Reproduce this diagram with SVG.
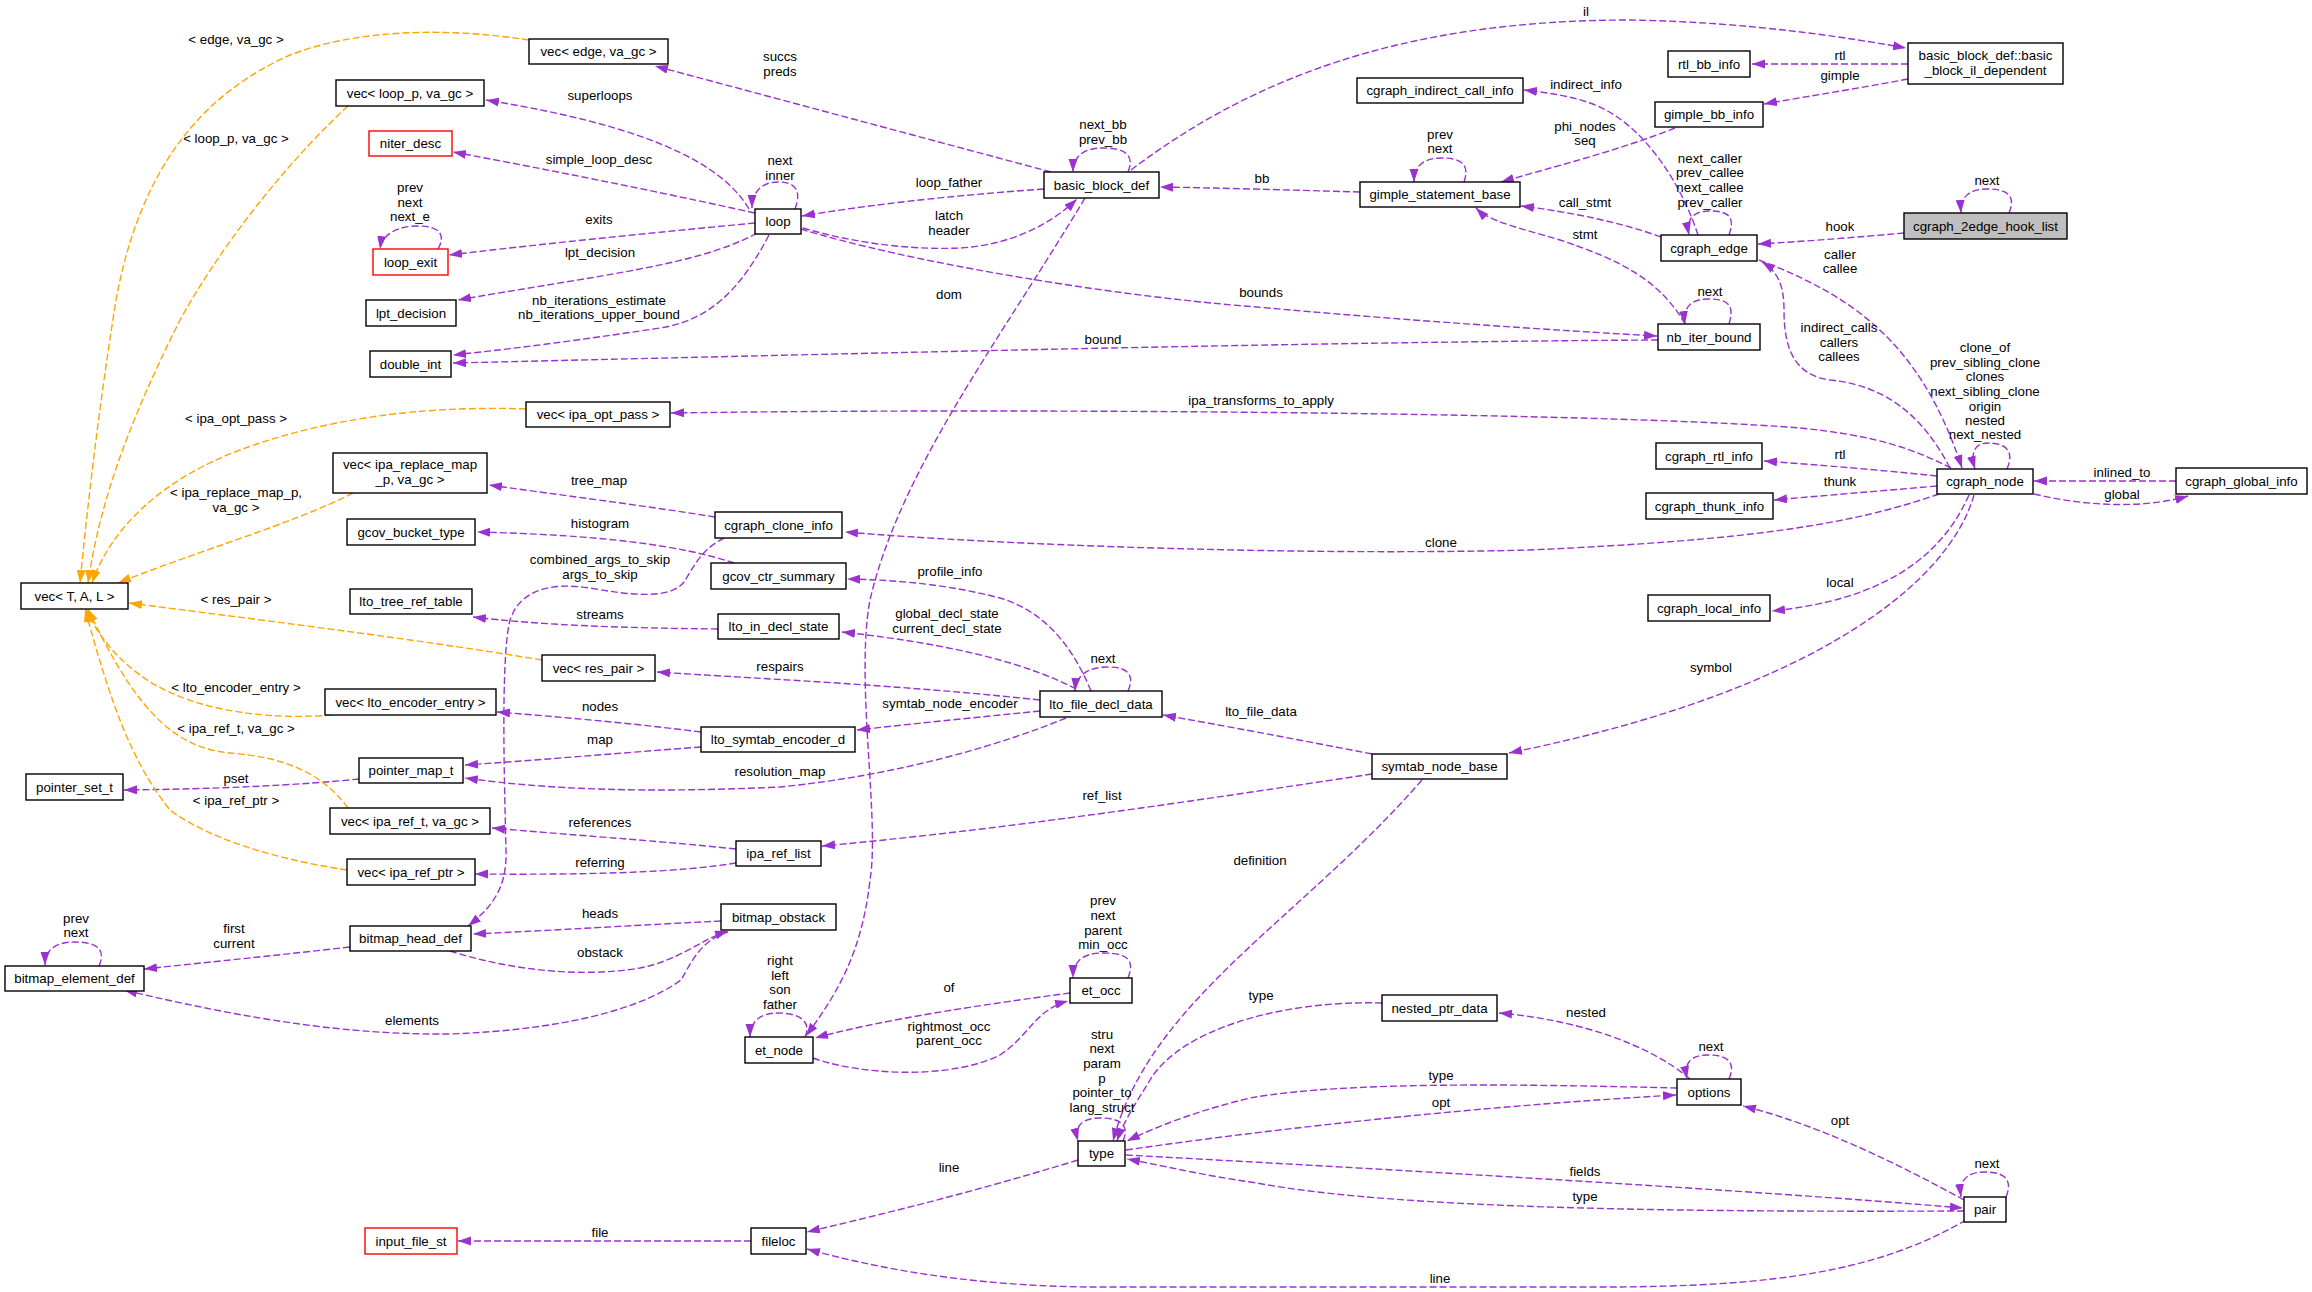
<svg xmlns="http://www.w3.org/2000/svg" width="2312" height="1292" viewBox="0 0 2312 1292">
<style>
text{font-family:"Liberation Sans",Arial,Helvetica,sans-serif;font-size:13.3px;text-anchor:middle;fill:#000}
.n rect{fill:#fff;stroke:#000;stroke-width:1.4}
.n.red rect{stroke:#ff0000}
.n.root rect{fill:#bfbfbf}
.e{fill:none;stroke:#9a32cd;stroke-width:1.4;stroke-dasharray:7,3;marker-end:url(#ap)}
.o{fill:none;stroke:#ffa500;stroke-width:1.4;stroke-dasharray:7,3;marker-end:url(#ao)}
</style>
<defs>
<marker id="ap" markerUnits="userSpaceOnUse" markerWidth="14" markerHeight="10" refX="13" refY="4.5" orient="auto" viewBox="0 0 14 10"><path d="M0,0 L13,4.5 L0,9 z" fill="#9a32cd"/></marker>
<marker id="ao" markerUnits="userSpaceOnUse" markerWidth="14" markerHeight="10" refX="13" refY="4.5" orient="auto" viewBox="0 0 14 10"><path d="M0,0 L13,4.5 L0,9 z" fill="#ffa500"/></marker>
</defs>
<rect width="2312" height="1292" fill="#fff"/>

<g id="edges">
<path class="e" d="M1051,172 L655,66"/>
<path class="e" d="M749,209 C720,160 640,125 486,100"/>
<path class="e" d="M795,209 C802,190 795,182 778,182 C762,182 752,192 752,208"/>
<path class="e" d="M755,213 C650,190 550,170 453,152"/>
<path class="e" d="M755,223 C650,233 550,243 449,255"/>
<path class="e" d="M438,249 C446,235 440,226 418,226 C398,226 382,234 380,249"/>
<path class="e" d="M757,233 C700,265 600,275 458,300"/>
<path class="e" d="M769,235 C740,290 710,320 660,328 C580,340 520,348 453,355"/>
<path class="e" d="M801,229 C900,260 1100,295 1257,307 C1400,320 1550,330 1657,336"/>
<path class="e" d="M1658,340 C1300,342 800,355 453,363"/>
<path class="e" d="M1729,324 C1735,305 1728,299 1708,299 C1690,299 1683,308 1685,324"/>
<path class="e" d="M1951,468 C1915,450 1880,436 1800,428 C1600,412 1000,408 671,413"/>
<path class="e" d="M803,228 C860,245 920,250 960,248 C1010,245 1050,225 1077,199"/>
<path class="e" d="M1044,189 C960,195 880,203 802,216"/>
<path class="e" d="M1128,172 C1135,155 1125,148 1103,148 C1083,148 1073,157 1073,172"/>
<path class="e" d="M1085,198 C1000,340 900,470 870,600 C855,680 880,820 870,880 C862,950 840,990 806,1036"/>
<path class="e" d="M724,538 C700,550 692,570 684,582 C670,600 630,595 590,588 C550,582 520,590 510,620 C500,660 505,800 506,850 C507,885 495,905 468,926"/>
<path class="e" d="M1939,494 C1850,525 1750,540 1530,550 C1300,556 1000,545 845,532"/>
<path class="e" d="M715,517 C640,505 560,495 489,485"/>
<path class="e" d="M734,563 C680,545 600,535 477,532"/>
<path class="e" d="M1091,691 C1070,640 1040,610 1000,598 C950,585 900,580 847,579"/>
<path class="e" d="M1076,689 C1030,665 960,645 842,632"/>
<path class="e" d="M1128,691 C1135,675 1128,667 1108,667 C1088,667 1076,675 1075,691"/>
<path class="e" d="M718,629 C620,628 540,625 473,617"/>
<path class="e" d="M1040,700 C900,685 780,680 657,672"/>
<path class="e" d="M1040,711 C980,717 920,723 857,730"/>
<path class="e" d="M1066,718 C1000,745 900,775 780,787 C650,793 550,790 465,778"/>
<path class="e" d="M701,747 C620,753 540,760 465,765"/>
<path class="e" d="M701,732 C630,723 560,717 497,712"/>
<path class="e" d="M359,779 C300,785 220,789 124,790"/>
<path class="e" d="M736,849 C650,840 570,835 492,828"/>
<path class="e" d="M736,863 C680,872 600,875 475,874"/>
<path class="e" d="M1372,774 C1200,800 1000,830 822,846"/>
<path class="e" d="M1372,754 C1300,740 1220,725 1163,715"/>
<path class="e" d="M1974,495 C1950,580 1820,690 1509,753"/>
<path class="e" d="M1969,495 C1940,560 1880,600 1772,611"/>
<path class="e" d="M1937,476 C1880,470 1820,465 1764,461"/>
<path class="e" d="M1937,486 C1880,491 1830,495 1774,500"/>
<path class="e" d="M2176,481 L2034,481"/>
<path class="e" d="M2034,494 C2080,505 2140,510 2188,496"/>
<path class="e" d="M2007,469 C2015,450 2005,443 1988,443 C1975,443 1970,452 1975,469"/>
<path class="e" d="M1759,260 C1850,295 1920,340 1962,468"/>
<path class="e" d="M1950,468 C1920,410 1880,385 1830,380 C1795,375 1784,350 1784,310 C1784,285 1778,272 1762,262"/>
<path class="e" d="M1729,235 C1735,218 1730,211 1710,211 C1692,211 1686,220 1689,235"/>
<path class="e" d="M1698,235 C1680,180 1640,120 1590,103 C1570,96 1550,93 1524,90"/>
<path class="e" d="M1661,237 C1620,222 1570,212 1521,206"/>
<path class="e" d="M1685,324 C1660,280 1620,260 1560,240 C1520,228 1490,222 1476,208"/>
<path class="e" d="M1675,128 C1620,150 1560,165 1501,182"/>
<path class="e" d="M1464,182 C1470,165 1462,158 1442,158 C1422,158 1414,167 1414,182"/>
<path class="e" d="M1360,192 C1290,190 1220,188 1160,187"/>
<path class="e" d="M1131,170 C1250,80 1400,20 1630,20 C1750,22 1850,38 1906,48"/>
<path class="e" d="M1908,64 L1752,64"/>
<path class="e" d="M1908,79 C1860,88 1810,96 1764,104"/>
<path class="e" d="M1904,233 C1860,237 1810,241 1758,244"/>
<path class="e" d="M2009,213 C2016,196 2008,189 1987,189 C1968,189 1960,198 1961,213"/>
<path class="o" d="M529,40 C450,28 360,28 290,55 C200,95 140,170 116,300 C100,400 88,500 80,583"/>
<path class="o" d="M348,106 C300,150 230,230 180,320 C130,420 100,500 88,583"/>
<path class="o" d="M526,409 C420,405 320,420 240,450 C160,480 110,530 92,583"/>
<path class="o" d="M353,493 C290,525 200,550 118,583"/>
<path class="o" d="M542,660 C420,640 300,625 129,603"/>
<path class="o" d="M332,715 C270,720 200,712 150,682 C120,662 100,640 86,609"/>
<path class="o" d="M348,808 C320,770 280,757 230,753 C180,748 140,720 88,609"/>
<path class="o" d="M347,870 C280,860 210,840 170,810 C130,760 110,700 85,609"/>
<path class="e" d="M721,921 C640,925 560,930 473,934"/>
<path class="e" d="M450,951 C510,970 580,978 640,968 C680,960 700,940 728,931"/>
<path class="e" d="M350,947 C280,955 210,962 144,969"/>
<path class="e" d="M728,932 C700,940 690,965 681,980 C640,1010 560,1030 450,1034 C350,1035 250,1020 124,990"/>
<path class="e" d="M99,966 C106,950 98,942 75,942 C55,942 45,950 45,965"/>
<path class="e" d="M1070,993 C980,1005 880,1020 815,1038"/>
<path class="e" d="M813,1058 C860,1075 950,1080 1000,1055 C1030,1035 1035,1010 1068,1001"/>
<path class="e" d="M1128,978 C1135,960 1128,953 1103,953 C1082,953 1073,962 1073,978"/>
<path class="e" d="M805,1037 C812,1022 800,1013 778,1013 C760,1013 750,1022 750,1037"/>
<path class="e" d="M1422,780 C1300,920 1150,1000 1113,1141"/>
<path class="e" d="M1382,1003 C1280,1000 1180,1030 1150,1080 C1138,1100 1124,1120 1117,1141"/>
<path class="e" d="M1123,1141 C1130,1125 1120,1118 1100,1118 C1082,1118 1074,1126 1078,1141"/>
<path class="e" d="M1677,1088 C1550,1085 1350,1080 1250,1098 C1200,1110 1160,1125 1127,1141"/>
<path class="e" d="M1690,1079 C1650,1045 1580,1020 1499,1013"/>
<path class="e" d="M1729,1079 C1736,1062 1728,1055 1708,1055 C1690,1055 1684,1063 1687,1079"/>
<path class="e" d="M1126,1150 C1300,1125 1500,1105 1676,1095"/>
<path class="e" d="M1964,1200 C1900,1165 1820,1125 1743,1106"/>
<path class="e" d="M2006,1197 C2013,1180 2005,1172 1985,1172 C1967,1172 1959,1180 1961,1197"/>
<path class="e" d="M1126,1155 C1400,1170 1750,1190 1963,1208"/>
<path class="e" d="M1964,1211 C1700,1212 1400,1210 1257,1183 C1200,1175 1160,1165 1127,1159"/>
<path class="e" d="M1078,1160 C980,1190 900,1210 807,1232"/>
<path class="e" d="M1966,1220 C1880,1270 1780,1287 1600,1287 L1100,1287 C1000,1287 900,1275 807,1249"/>
<path class="e" d="M751,1241 L458,1241"/>
</g>

<g id="edge-labels">
<text x="236" y="44">&lt; edge, va_gc &gt;</text>
<text x="236" y="143">&lt; loop_p, va_gc &gt;</text>
<text x="600" y="100">superloops</text>
<text x="599" y="164">simple_loop_desc</text>
<text x="410" y="192">prev</text><text x="410" y="207">next</text><text x="410" y="221">next_e</text>
<text x="599" y="224">exits</text>
<text x="600" y="257">lpt_decision</text>
<text x="599" y="305">nb_iterations_estimate</text><text x="599" y="319">nb_iterations_upper_bound</text>
<text x="236" y="423">&lt; ipa_opt_pass &gt;</text>
<text x="780" y="61">succs</text><text x="780" y="76">preds</text>
<text x="780" y="165">next</text><text x="780" y="180">inner</text>
<text x="1103" y="129">next_bb</text><text x="1103" y="144">prev_bb</text>
<text x="1440" y="139">prev</text><text x="1440" y="153">next</text>
<text x="1262" y="183">bb</text>
<text x="949" y="187">loop_father</text>
<text x="949" y="220">latch</text><text x="949" y="235">header</text>
<text x="949" y="299">dom</text>
<text x="1261" y="297">bounds</text>
<text x="1103" y="344">bound</text>
<text x="1261" y="405">ipa_transforms_to_apply</text>
<text x="1586" y="16">il</text>
<text x="1840" y="60">rtl</text>
<text x="1840" y="80">gimple</text>
<text x="1586" y="89">indirect_info</text>
<text x="1585" y="131">phi_nodes</text><text x="1585" y="145">seq</text>
<text x="1710" y="163">next_caller</text><text x="1710" y="177">prev_callee</text><text x="1710" y="192">next_callee</text><text x="1710" y="207">prev_caller</text>
<text x="1585" y="207">call_stmt</text>
<text x="1585" y="239">stmt</text>
<text x="1987" y="185">next</text>
<text x="1840" y="231">hook</text>
<text x="1840" y="259">caller</text><text x="1840" y="273">callee</text>
<text x="1710" y="296">next</text>
<text x="1839" y="332">indirect_calls</text><text x="1839" y="347">callers</text><text x="1839" y="361">callees</text>
<text x="1985" y="352">clone_of</text><text x="1985" y="367">prev_sibling_clone</text><text x="1985" y="381">clones</text><text x="1985" y="396">next_sibling_clone</text><text x="1985" y="411">origin</text><text x="1985" y="425">nested</text><text x="1985" y="439">next_nested</text>
<text x="1840" y="459">rtl</text>
<text x="2122" y="477">inlined_to</text>
<text x="2122" y="499">global</text>
<text x="1840" y="486">thunk</text>
<text x="1840" y="587">local</text>
<text x="1711" y="672">symbol</text>
<text x="236" y="497">&lt; ipa_replace_map_p,</text><text x="236" y="512">va_gc &gt;</text>
<text x="599" y="485">tree_map</text>
<text x="600" y="528">histogram</text>
<text x="600" y="564">combined_args_to_skip</text><text x="600" y="579">args_to_skip</text>
<text x="236" y="604">&lt; res_pair &gt;</text>
<text x="600" y="619">streams</text>
<text x="780" y="671">respairs</text>
<text x="236" y="692">&lt; lto_encoder_entry &gt;</text>
<text x="600" y="711">nodes</text>
<text x="236" y="733">&lt; ipa_ref_t, va_gc &gt;</text>
<text x="600" y="744">map</text>
<text x="780" y="776">resolution_map</text>
<text x="236" y="783">pset</text>
<text x="236" y="805">&lt; ipa_ref_ptr &gt;</text>
<text x="600" y="827">references</text>
<text x="1441" y="547">clone</text>
<text x="950" y="576">profile_info</text>
<text x="947" y="618">global_decl_state</text><text x="947" y="633">current_decl_state</text>
<text x="1103" y="663">next</text>
<text x="950" y="708">symtab_node_encoder</text>
<text x="1261" y="716">lto_file_data</text>
<text x="1102" y="800">ref_list</text>
<text x="1260" y="865">definition</text>
<text x="600" y="867">referring</text>
<text x="600" y="918">heads</text>
<text x="76" y="923">prev</text><text x="76" y="937">next</text>
<text x="234" y="933">first</text><text x="234" y="948">current</text>
<text x="600" y="957">obstack</text>
<text x="412" y="1025">elements</text>
<text x="780" y="965">right</text><text x="780" y="980">left</text><text x="780" y="994">son</text><text x="780" y="1009">father</text>
<text x="600" y="1237">file</text>
<text x="1103" y="905">prev</text><text x="1103" y="920">next</text><text x="1103" y="935">parent</text><text x="1103" y="949">min_occ</text>
<text x="949" y="992">of</text>
<text x="949" y="1031">rightmost_occ</text><text x="949" y="1045">parent_occ</text>
<text x="1261" y="1000">type</text>
<text x="1102" y="1039">stru</text><text x="1102" y="1053">next</text><text x="1102" y="1068">param</text><text x="1102" y="1083">p</text><text x="1102" y="1097">pointer_to</text><text x="1102" y="1112">lang_struct</text>
<text x="1441" y="1080">type</text>
<text x="1441" y="1107">opt</text>
<text x="949" y="1172">line</text>
<text x="1440" y="1283">line</text>
<text x="1586" y="1017">nested</text>
<text x="1711" y="1051">next</text>
<text x="1840" y="1125">opt</text>
<text x="1987" y="1168">next</text>
<text x="1585" y="1176">fields</text>
<text x="1585" y="1201">type</text>
</g>

<g id="node-vec_edge" class="n"><rect x="529" y="39" width="139" height="25"/><text x="598.5" y="56">vec&lt; edge, va_gc &gt;</text></g>
<g id="node-vec_loop_p" class="n"><rect x="336" y="80" width="148" height="26"/><text x="410" y="97.5">vec&lt; loop_p, va_gc &gt;</text></g>
<g id="node-niter_desc" class="n red"><rect x="369" y="131" width="83" height="25"/><text x="410.5" y="148">niter_desc</text></g>
<g id="node-loop_exit" class="n red"><rect x="373" y="249" width="75" height="26"/><text x="410.5" y="266.5">loop_exit</text></g>
<g id="node-lpt_decision" class="n"><rect x="366" y="300" width="90" height="26"/><text x="411" y="317.5">lpt_decision</text></g>
<g id="node-double_int" class="n"><rect x="370" y="351" width="81" height="26"/><text x="410.5" y="368.5">double_int</text></g>
<g id="node-vec_ipa_opt_pass" class="n"><rect x="526" y="402" width="144" height="25"/><text x="598" y="419">vec&lt; ipa_opt_pass &gt;</text></g>
<g id="node-loop" class="n"><rect x="755" y="209" width="46" height="25"/><text x="778" y="226">loop</text></g>
<g id="node-basic_block_def" class="n"><rect x="1044" y="172" width="115" height="26"/><text x="1101.5" y="189.5">basic_block_def</text></g>
<g id="node-cgraph_indirect_call_info" class="n"><rect x="1357" y="78" width="166" height="25"/><text x="1440" y="95">cgraph_indirect_call_info</text></g>
<g id="node-gimple_statement_base" class="n"><rect x="1360" y="182" width="160" height="25"/><text x="1440" y="199">gimple_statement_base</text></g>
<g id="node-basic_block_il_dependent" class="n"><rect x="1908" y="43" width="155" height="41"/><text x="1985.5" y="60">basic_block_def::basic</text><text x="1985.5" y="75">_block_il_dependent</text></g>
<g id="node-rtl_bb_info" class="n"><rect x="1668" y="51" width="82" height="26"/><text x="1709" y="68.5">rtl_bb_info</text></g>
<g id="node-gimple_bb_info" class="n"><rect x="1655" y="102" width="108" height="25"/><text x="1709" y="119">gimple_bb_info</text></g>
<g id="node-cgraph_edge" class="n"><rect x="1661" y="235" width="96" height="26"/><text x="1709" y="252.5">cgraph_edge</text></g>
<g id="node-cgraph_2edge_hook_list" class="n root"><rect x="1904" y="213" width="163" height="26"/><text x="1985.5" y="230.5">cgraph_2edge_hook_list</text></g>
<g id="node-nb_iter_bound" class="n"><rect x="1658" y="324" width="102" height="26"/><text x="1709" y="341.5">nb_iter_bound</text></g>
<g id="node-cgraph_rtl_info" class="n"><rect x="1656" y="443" width="106" height="26"/><text x="1709" y="460.5">cgraph_rtl_info</text></g>
<g id="node-cgraph_node" class="n"><rect x="1937" y="469" width="96" height="25"/><text x="1985" y="486">cgraph_node</text></g>
<g id="node-cgraph_global_info" class="n"><rect x="2176" y="468" width="131" height="26"/><text x="2241.5" y="485.5">cgraph_global_info</text></g>
<g id="node-cgraph_thunk_info" class="n"><rect x="1646" y="493" width="127" height="26"/><text x="1709.5" y="510.5">cgraph_thunk_info</text></g>
<g id="node-cgraph_local_info" class="n"><rect x="1648" y="595" width="122" height="26"/><text x="1709" y="612.5">cgraph_local_info</text></g>
<g id="node-vec_T_A_L" class="n"><rect x="21" y="583" width="107" height="26"/><text x="74.5" y="600.5">vec&lt; T, A, L &gt;</text></g>
<g id="node-vec_ipa_replace_map" class="n"><rect x="333" y="453" width="154" height="40"/><text x="410" y="469">vec&lt; ipa_replace_map</text><text x="410" y="484">_p, va_gc &gt;</text></g>
<g id="node-gcov_bucket_type" class="n"><rect x="347" y="519" width="128" height="26"/><text x="411" y="536.5">gcov_bucket_type</text></g>
<g id="node-cgraph_clone_info" class="n"><rect x="715" y="512" width="127" height="26"/><text x="778.5" y="529.5">cgraph_clone_info</text></g>
<g id="node-gcov_ctr_summary" class="n"><rect x="711" y="563" width="135" height="26"/><text x="778.5" y="580.5">gcov_ctr_summary</text></g>
<g id="node-lto_tree_ref_table" class="n"><rect x="350" y="589" width="122" height="25"/><text x="411" y="606">lto_tree_ref_table</text></g>
<g id="node-lto_in_decl_state" class="n"><rect x="718" y="614" width="121" height="25"/><text x="778.5" y="631">lto_in_decl_state</text></g>
<g id="node-vec_res_pair" class="n"><rect x="542" y="655" width="113" height="26"/><text x="598.5" y="672.5">vec&lt; res_pair &gt;</text></g>
<g id="node-vec_lto_encoder_entry" class="n"><rect x="325" y="689" width="171" height="26"/><text x="410.5" y="706.5">vec&lt; lto_encoder_entry &gt;</text></g>
<g id="node-lto_symtab_encoder_d" class="n"><rect x="701" y="727" width="154" height="25"/><text x="778" y="744">lto_symtab_encoder_d</text></g>
<g id="node-pointer_map_t" class="n"><rect x="359" y="758" width="104" height="25"/><text x="411" y="775">pointer_map_t</text></g>
<g id="node-pointer_set_t" class="n"><rect x="26" y="774" width="97" height="26"/><text x="74.5" y="791.5">pointer_set_t</text></g>
<g id="node-vec_ipa_ref_t" class="n"><rect x="330" y="808" width="160" height="26"/><text x="410" y="825.5">vec&lt; ipa_ref_t, va_gc &gt;</text></g>
<g id="node-ipa_ref_list" class="n"><rect x="736" y="841" width="85" height="25"/><text x="778.5" y="858">ipa_ref_list</text></g>
<g id="node-lto_file_decl_data" class="n"><rect x="1040" y="691" width="122" height="26"/><text x="1101" y="708.5">lto_file_decl_data</text></g>
<g id="node-symtab_node_base" class="n"><rect x="1372" y="754" width="135" height="25"/><text x="1439.5" y="771">symtab_node_base</text></g>
<g id="node-vec_ipa_ref_ptr" class="n"><rect x="347" y="859" width="128" height="26"/><text x="411" y="876.5">vec&lt; ipa_ref_ptr &gt;</text></g>
<g id="node-bitmap_obstack" class="n"><rect x="721" y="904" width="115" height="26"/><text x="778.5" y="921.5">bitmap_obstack</text></g>
<g id="node-bitmap_head_def" class="n"><rect x="350" y="926" width="121" height="25"/><text x="410.5" y="943">bitmap_head_def</text></g>
<g id="node-bitmap_element_def" class="n"><rect x="5" y="966" width="139" height="25"/><text x="74.5" y="983">bitmap_element_def</text></g>
<g id="node-et_node" class="n"><rect x="745" y="1037" width="68" height="26"/><text x="779" y="1054.5">et_node</text></g>
<g id="node-et_occ" class="n"><rect x="1070" y="978" width="62" height="25"/><text x="1101" y="995">et_occ</text></g>
<g id="node-nested_ptr_data" class="n"><rect x="1382" y="995" width="115" height="26"/><text x="1439.5" y="1012.5">nested_ptr_data</text></g>
<g id="node-type" class="n"><rect x="1078" y="1141" width="47" height="25"/><text x="1101.5" y="1158">type</text></g>
<g id="node-options" class="n"><rect x="1677" y="1079" width="64" height="26"/><text x="1709" y="1096.5">options</text></g>
<g id="node-pair" class="n"><rect x="1964" y="1197" width="42" height="25"/><text x="1985" y="1214">pair</text></g>
<g id="node-fileloc" class="n"><rect x="751" y="1228" width="55" height="26"/><text x="778.5" y="1245.5">fileloc</text></g>
<g id="node-input_file_st" class="n red"><rect x="365" y="1228" width="92" height="26"/><text x="411" y="1245.5">input_file_st</text></g>
</svg>
